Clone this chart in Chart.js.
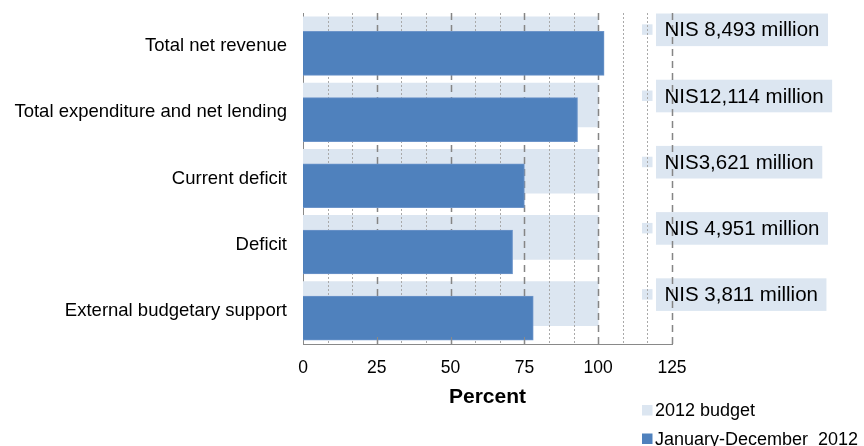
<!DOCTYPE html>
<html>
<head>
<meta charset="utf-8">
<script src="https://cdn.jsdelivr.net/npm/chart.js@4/dist/chart.umd.min.js"></script>
<style>
  html, body { margin: 0; padding: 0; background: #fff; }
  #wrap { width: 864px; height: 446px; position: relative; }
</style>
</head>
<body>
<div id="wrap"><canvas id="budgetChart"></canvas></div>
<script>
  // Budget execution, January-December 2012 (percent of 2012 budget)
  const categories = [
    "Total net revenue",
    "Total expenditure and net lending",
    "Current deficit",
    "Deficit",
    "External budgetary support",
  ];
  const budgetPct = [100, 100, 100, 100, 100];
  const actualPct = [102, 93, 75, 71, 78];
  const budgetAmounts = [
    "NIS 8,493 million",
    "NIS12,114 million",
    "NIS3,621 million",
    "NIS 4,951 million",
    "NIS 3,811 million",
  ];
  const xTicks = [0, 25, 50, 75, 100, 125];
  const seriesNames = ["2012 budget", "January-December  2012"];

  const FONT = "'Liberation Sans', Arial, sans-serif";
  const LIGHT = "#dce6f1";
  const DARK = "#4f81bd";
  const AXIS_GREY = "#898989";
  const BAR_SHIFT = 0.11; // budget bar sits a little above, actual a little below

  // Grid goes over the light budget bars but under the blue ones,
  // so it is drawn right after the budget dataset.
  const gridBetweenBars = {
    id: "gridBetweenBars",
    beforeDatasetsDraw(chart) {
      const ctx = chart.ctx;
      const y = chart.scales.y;
      ctx.save();
      ctx.font = "20.5px " + FONT;
      budgetAmounts.forEach((txt, i) => {
        const cy = y.getPixelForValue(i - BAR_SHIFT) - 9;
        const left = 656;
        const w = ctx.measureText(txt).width + 17;
        ctx.fillStyle = LIGHT;
        ctx.fillRect(left, cy - 16.3, w, 32.6);
        ctx.fillRect(left - 14, cy - 5.5, 10.5, 10.5);
      });
      ctx.restore();
    },
    afterDatasetDraw(chart, args) {
      if (args.index !== 0) return;
      const ctx = chart.ctx;
      const x = chart.scales.x;
      const { top, bottom } = chart.chartArea;
      const step = 25 / 3;
      ctx.save();
      for (let k = 1; k <= 15; k++) {
        const v = k * step;
        const px = Math.round(x.getPixelForValue(v)) + 0.5;
        const major = k % 3 === 0;
        ctx.beginPath();
        ctx.strokeStyle = major ? "#858585" : "#a9a9a9";
        ctx.lineWidth = major ? 1.5 : 1;
        ctx.setLineDash(major ? [7, 5] : [2, 2]);
        ctx.moveTo(px, top);
        ctx.lineTo(px, bottom);
        ctx.stroke();
      }
      ctx.restore();
    },
    afterDatasetsDraw(chart) {
      // short inside tick marks on the value axis
      const ctx = chart.ctx;
      const x = chart.scales.x;
      const bottom = chart.chartArea.bottom;
      ctx.save();
      ctx.strokeStyle = AXIS_GREY;
      ctx.lineWidth = 1;
      xTicks.slice(1).forEach((v) => {
        const px = Math.round(x.getPixelForValue(v)) + 0.5;
        ctx.beginPath();
        ctx.moveTo(px, bottom - 7);
        ctx.lineTo(px, bottom);
        ctx.stroke();
      });
      ctx.restore();
    },
    afterDraw(chart) {
      const ctx = chart.ctx;
      const y = chart.scales.y;
      ctx.save();
      // value labels for the budget series
      ctx.font = "20.5px " + FONT;
      ctx.fillStyle = "#000";
      ctx.textBaseline = "middle";
      budgetAmounts.forEach((txt, i) => {
        const cy = y.getPixelForValue(i - BAR_SHIFT) - 9;
        ctx.fillText(txt, 656 + 8.5, cy + 1);
      });
      // legend, bottom right
      ctx.font = "18px " + FONT;
      const colors = [LIGHT, DARK];
      seriesNames.forEach((name, i) => {
        const cy = 410.5 + i * 28.5;
        ctx.fillStyle = colors[i];
        ctx.fillRect(642, cy - 5.5, 10.5, 10.5);
        ctx.fillStyle = "#000";
        ctx.fillText(name, 655, cy + 1);
      });
      ctx.restore();
    },
  };

  const ctx = document.getElementById("budgetChart").getContext("2d");
  new Chart(ctx, {
    type: "bar",
    data: {
      datasets: [
        {
          label: seriesNames[0],
          data: budgetPct.map((v, i) => ({ x: v, y: i - BAR_SHIFT })),
          backgroundColor: LIGHT,
          borderWidth: 0,
          order: 1,
        },
        {
          label: seriesNames[1],
          data: actualPct.map((v, i) => ({ x: v, y: i + BAR_SHIFT })),
          backgroundColor: DARK,
          borderColor: "#6d95ca",
          borderWidth: 1,
          order: 0,
        },
      ],
    },
    options: {
      indexAxis: "y",
      responsive: true,
      maintainAspectRatio: false,
      animation: false,
      layout: {
        padding: { top: 13, right: 192, bottom: 0, left: 0 },
      },
      datasets: {
        bar: { grouped: false, barThickness: 44 },
      },
      plugins: {
        legend: { display: false },
        tooltip: { enabled: false },
      },
      scales: {
        x: {
          type: "linear",
          min: 0,
          max: 125,
          afterBuildTicks: (scale) => {
            scale.ticks = xTicks.map((v) => ({ value: v }));
          },
          afterFit: (scale) => {
            scale.height = 102;
            scale.paddingLeft = 0;
            scale.paddingRight = 0;
          },
          grid: { display: false },
          border: { display: true, color: AXIS_GREY, width: 1 },
          ticks: {
            color: "#000",
            padding: 6,
            font: { family: FONT, size: 17.5 },
          },
          title: {
            display: true,
            text: "Percent",
            color: "#000",
            font: { family: FONT, size: 21, weight: "bold" },
            padding: { top: 0, bottom: 36 },
          },
        },
        y: {
          type: "linear",
          min: -0.5,
          max: 4.5,
          reverse: true,
          offset: false,
          afterBuildTicks: (scale) => {
            scale.ticks = categories.map((c, i) => ({ value: i }));
          },
          afterFit: (scale) => {
            scale.width = 303;
            scale.paddingTop = 0;
            scale.paddingBottom = 0;
          },
          grid: { display: false, offset: false },
          border: { display: true, color: AXIS_GREY, width: 1 },
          ticks: {
            color: "#000",
            padding: 8,
            autoSkip: false,
            font: { family: FONT, size: 18.5 },
            callback: (value) => categories[value],
          },
        },
      },
    },
    plugins: [gridBetweenBars],
  });
</script>
</body>
</html>
